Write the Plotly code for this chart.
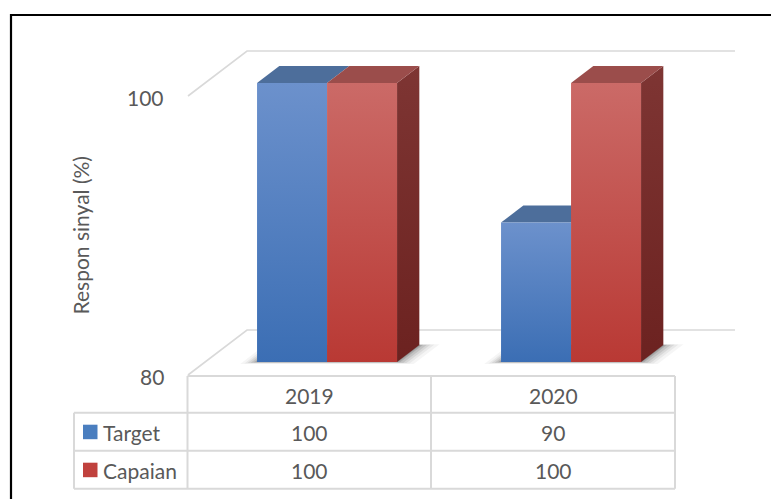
import plotly.graph_objects as go

# ---- data -------------------------------------------------------------
categories = ["2019", "2020"]
series_names = ["Target", "Capaian"]
target = [100, 90]
capaian = [100, 100]
y_ticks = [80, 100]
y_title = "Respon sinyal (%)"

# ---- styling ----------------------------------------------------------
W, H = 771, 499
TEXT = "#595959"
GRID = "#d9d9d9"
FONT = "Lato"

front_colors = {  # (bottom, top) gradient of the front face
    "Target": ("#3b6eb4", "#6c91cc"),
    "Capaian": ("#b93934", "#cb6a67"),
}
top_colors = {"Target": "#4d6e9b", "Capaian": "#9b4d4b"}
side_colors = {"Target": ("#2c4f80", "#3f5f8c"), "Capaian": ("#6c2220", "#7e3533")}
legend_colors = {"Target": "#4a7ebf", "Capaian": "#c0413d"}

# ---- oblique 3-D projection ------------------------------------------
# The axes describe the front plane of the floor: category i sits at
# x = i, value v at y = v.  Depth (in px toward the back wall) shifts a
# point up and to the right.
CAT_PX = 244.0          # px per category
VAL_PX = 13.95          # px per value unit
X0_PX = 310.0           # px position of category 0
BASE_PX = 375.0         # px position of the floor front edge
V0 = y_ticks[0]
SLOPE = 59.0 / 45.0     # horizontal px per px of depth
WALL_DEPTH = 45.0
BAR_FRONT, BAR_BACK = 13.0, 30.0
BAR_W = 70.0 / CAT_PX
SHADOW_LAYERS = [(16, 0.04), (12, 0.05), (9, 0.07), (6, 0.09), (3, 0.12), (1, 0.15)]

x_range = [-X0_PX / CAT_PX, (W - X0_PX) / CAT_PX]
y_range = [V0 - (H - BASE_PX) / VAL_PX, V0 + BASE_PX / VAL_PX]


def proj(cat, val, depth):
    return cat + depth * SLOPE / CAT_PX, val + depth / VAL_PX


def poly(points):
    xs, ys = zip(*[proj(*p) for p in points])
    return list(xs) + [xs[0]], list(ys) + [ys[0]]


def px_x(px):
    return px / W


def px_y(py):
    return 1 - py / H


fig = go.Figure()


def add_face(points, color=None, grad=None, name=None, opacity=1.0):
    xs, ys = poly(points)
    kw = dict(x=xs, y=ys, mode="lines", fill="toself", line=dict(width=0),
              hoverinfo="skip", showlegend=False, opacity=opacity)
    if grad is not None:
        kw["fillgradient"] = dict(type="vertical",
                                  colorscale=[[0, grad[0]], [1, grad[1]]],
                                  start=min(ys), stop=max(ys))
    else:
        kw["fillcolor"] = color
    if name:
        kw["name"] = name
    fig.add_trace(go.Scatter(**kw))


left_edge = -0.5
right_edge = len(categories) - 0.5

# wall / floor gridlines for each tick
for t in y_ticks:
    pts = [proj(left_edge, t, 0), proj(left_edge, t, WALL_DEPTH),
           proj(right_edge, t, WALL_DEPTH)]
    fig.add_trace(go.Scatter(x=[p[0] for p in pts], y=[p[1] for p in pts],
                             mode="lines", line=dict(color=GRID, width=1.6),
                             hoverinfo="skip", showlegend=False))

# soft shadows under each pair of columns
for i, _ in enumerate(categories):
    x0, x2 = i - BAR_W, i + BAR_W
    for e, op in SHADOW_LAYERS:
        ex = e / CAT_PX
        add_face([(x0 - ex * 0.9, V0, BAR_FRONT - e * 0.12),
                  (x2 + ex * 1.2, V0, BAR_FRONT - e * 0.12),
                  (x2 + ex * 1.2, V0, BAR_BACK + e * 0.05),
                  (x0 - ex * 0.9, V0, BAR_BACK + e * 0.05)],
                 color="#000000", opacity=op)

# columns
for i, cat in enumerate(categories):
    for s, (name, vals) in enumerate(zip(series_names, [target, capaian])):
        v = vals[i]
        xa = i - BAR_W + s * BAR_W
        xb = xa + BAR_W
        # right side face (only visible for the right-hand column)
        if s == len(series_names) - 1:
            add_face([(xb, V0, BAR_FRONT), (xb, V0, BAR_BACK),
                      (xb, v, BAR_BACK), (xb, v, BAR_FRONT)],
                     grad=side_colors[name])
        # top face
        add_face([(xa, v, BAR_FRONT), (xb, v, BAR_FRONT),
                  (xb, v, BAR_BACK), (xa, v, BAR_BACK)],
                 color=top_colors[name])
        # front face
        add_face([(xa, V0, BAR_FRONT), (xb, V0, BAR_FRONT),
                  (xb, v, BAR_FRONT), (xa, v, BAR_FRONT)],
                 grad=front_colors[name], name=f"{name} {cat}")

annotations = []
shapes = []

# value axis labels
for t in y_ticks:
    annotations.append(dict(x=left_edge, y=t, xref="x", yref="y", text=str(t),
                            showarrow=False, xanchor="right", yanchor="middle",
                            xshift=-22, yshift=-1,
                            font=dict(family=FONT, size=21, color=TEXT)))

annotations.append(dict(x=px_x(80), y=px_y(235.5), xref="paper", yref="paper",
                        text=y_title, textangle=-90, showarrow=False,
                        xanchor="center", yanchor="middle",
                        font=dict(family=FONT, size=21, color=TEXT)))

# data table
row_px = [376, 412.7, 450.7, 488.7]
col_px = [74, 187.5, 431, 675]
line = dict(color=GRID, width=2)
# header row borders (no legend column)
shapes.append(dict(type="line", xref="paper", yref="paper", x0=px_x(col_px[1]),
                   x1=px_x(col_px[-1]), y0=px_y(row_px[0]), y1=px_y(row_px[0]), line=line))
for r in row_px[1:]:
    shapes.append(dict(type="line", xref="paper", yref="paper", x0=px_x(col_px[0]),
                       x1=px_x(col_px[-1]), y0=px_y(r), y1=px_y(r), line=line))
for c in col_px[1:]:
    shapes.append(dict(type="line", xref="paper", yref="paper", x0=px_x(c), x1=px_x(c),
                       y0=px_y(row_px[0]), y1=px_y(row_px[-1]), line=line))
shapes.append(dict(type="line", xref="paper", yref="paper", x0=px_x(col_px[0]),
                   x1=px_x(col_px[0]), y0=px_y(row_px[1]), y1=px_y(row_px[-1]), line=line))

cell_font = dict(family=FONT, size=21, color=TEXT)
for i, cat in enumerate(categories):
    cx = (col_px[i + 1] + col_px[i + 2]) / 2
    annotations.append(dict(x=px_x(cx), y=px_y((row_px[0] + row_px[1]) / 2 + 1),
                            xref="paper", yref="paper", text=cat, showarrow=False,
                            xanchor="center", yanchor="middle", font=cell_font))
    for s, vals in enumerate([target, capaian]):
        cy = (row_px[s + 1] + row_px[s + 2]) / 2 + 1
        annotations.append(dict(x=px_x(cx), y=px_y(cy), xref="paper", yref="paper",
                                text=str(vals[i]), showarrow=False,
                                xanchor="center", yanchor="middle", font=cell_font))

for s, name in enumerate(series_names):
    cy = (row_px[s + 1] + row_px[s + 2]) / 2
    shapes.append(dict(type="rect", xref="paper", yref="paper",
                       x0=px_x(83), x1=px_x(97.5), y0=px_y(cy + 7.5), y1=px_y(cy - 7),
                       fillcolor=legend_colors[name], line=dict(width=0)))
    annotations.append(dict(x=px_x(101), y=px_y(cy + 1), xref="paper", yref="paper",
                            text=name, showarrow=False, xanchor="left",
                            yanchor="middle", font=cell_font))

# outer frame
shapes.append(dict(type="path", xref="paper", yref="paper",
                   path=f"M {px_x(11)} {px_y(H + 2)} L {px_x(11)} {px_y(15)} L {px_x(W + 2)} {px_y(15)}",
                   line=dict(color="#000000", width=2.2)))

fig.update_layout(
    width=W, height=H,
    margin=dict(l=0, r=0, t=0, b=0),
    paper_bgcolor="white", plot_bgcolor="white",
    xaxis=dict(range=x_range, visible=False, fixedrange=True),
    yaxis=dict(range=y_range, visible=False, fixedrange=True),
    showlegend=False,
    annotations=annotations,
    shapes=shapes,
)

fig.write_html("out.html")
